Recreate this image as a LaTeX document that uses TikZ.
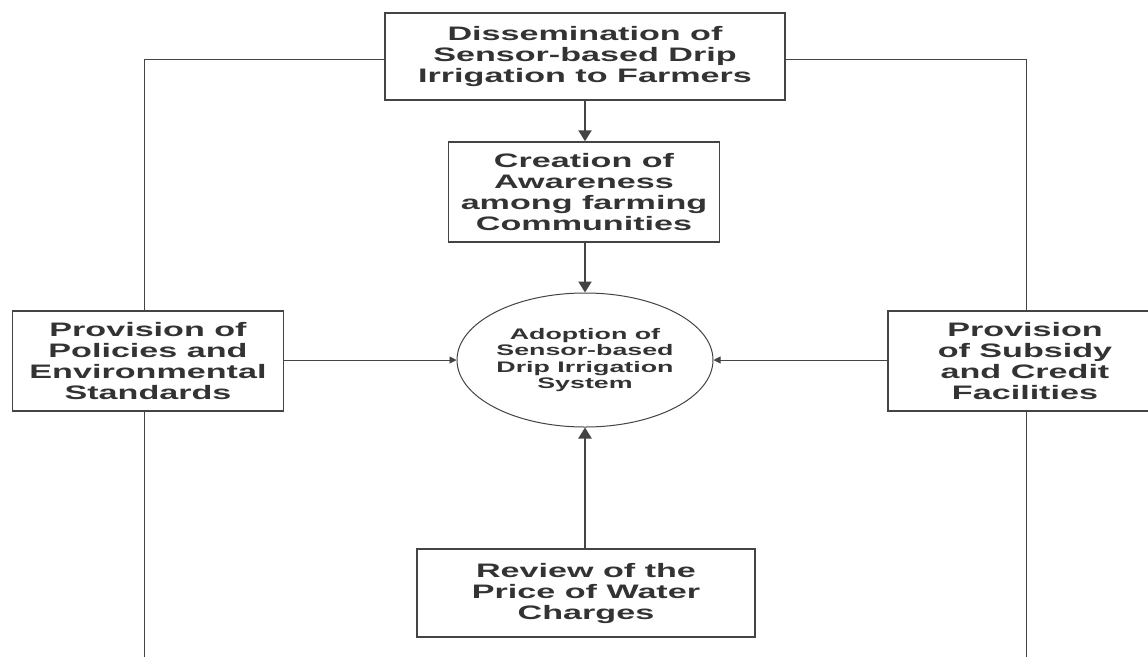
\documentclass[tikz,border=0pt]{standalone}
\usepackage{fontspec}
\setmainfont{Liberation Sans}
\newfontfamily\wfont[FakeStretch=1.75]{Liberation Sans}
\usetikzlibrary{arrows.meta,shapes.geometric}
\definecolor{ink}{HTML}{333333}
\definecolor{edge}{HTML}{444444}
\begin{document}
\begin{tikzpicture}[x=1pt,y=-1pt,
  box/.style={draw=edge,line width=1.5pt,text=ink,align=center,inner sep=0pt,
    font=\wfont\bfseries\fontsize{19.5}{21}\selectfont},
  oval/.style={draw=edge,ellipse,line width=1pt,text=ink,align=center,inner sep=0pt,
    font=\wfont\bfseries\fontsize{15.3}{16.5}\selectfont},
  link/.style={draw=edge,line width=1pt},
  bigarrow/.style={draw=edge,line width=2.2pt,-{Triangle[length=11pt,width=13pt]}},
  smallarrow/.style={draw=edge,line width=0.9pt,-{Triangle[length=7pt,width=7pt]}}]
\useasboundingbox (0,0) rectangle (1148,657);
\clip (0,0) rectangle (1148,657);
\fill[white] (0,0) rectangle (1148,657);

\node[box,minimum width=400pt,minimum height=87pt] (top) at (585,56.5)
  {Dissemination of\\Sensor-based Drip\\Irrigation to Farmers};
\node[box,minimum width=271pt,minimum height=100pt] (aware) at (584,192)
  {Creation of\\Awareness\\among farming\\Communities};
\node[oval,minimum width=256pt,minimum height=134pt] (adopt) at (585,360)
  {Adoption of\\Sensor-based\\Drip Irrigation\\System};
\node[box,minimum width=271pt,minimum height=100pt] (policy) at (148,361)
  {Provision of\\Policies and\\Environmental\\Standards};
\node[box,minimum width=274pt,minimum height=100pt] (subsidy) at (1025,361)
  {Provision\\of Subsidy\\and Credit\\Facilities};
\node[box,minimum width=338pt,minimum height=88pt] (review) at (586,593)
  {Review of the\\Price of Water\\Charges};

\coordinate (tl) at (144,59);
\coordinate (tr) at (1026,59);
\coordinate (bl) at (144,657);
\coordinate (br) at (1026,657);

\draw[link] (tl -| top.west) -- (tl) -- (tl |- policy.north);
\draw[link] (bl |- policy.south) -- (bl);
\draw[link] (tr -| top.east) -- (tr) -- (tr |- subsidy.north);
\draw[link] (br |- subsidy.south) -- (br);

\draw[bigarrow] (top.south) -- (top.south |- aware.north);
\draw[bigarrow] (aware.south -| adopt.north) -- (adopt.north);
\draw[bigarrow] (review.north -| adopt.south) -- (adopt.south);
\draw[smallarrow] (policy.east |- adopt.west) -- (adopt.west);
\draw[smallarrow] (subsidy.west |- adopt.east) -- (adopt.east);
\end{tikzpicture}
\end{document}
